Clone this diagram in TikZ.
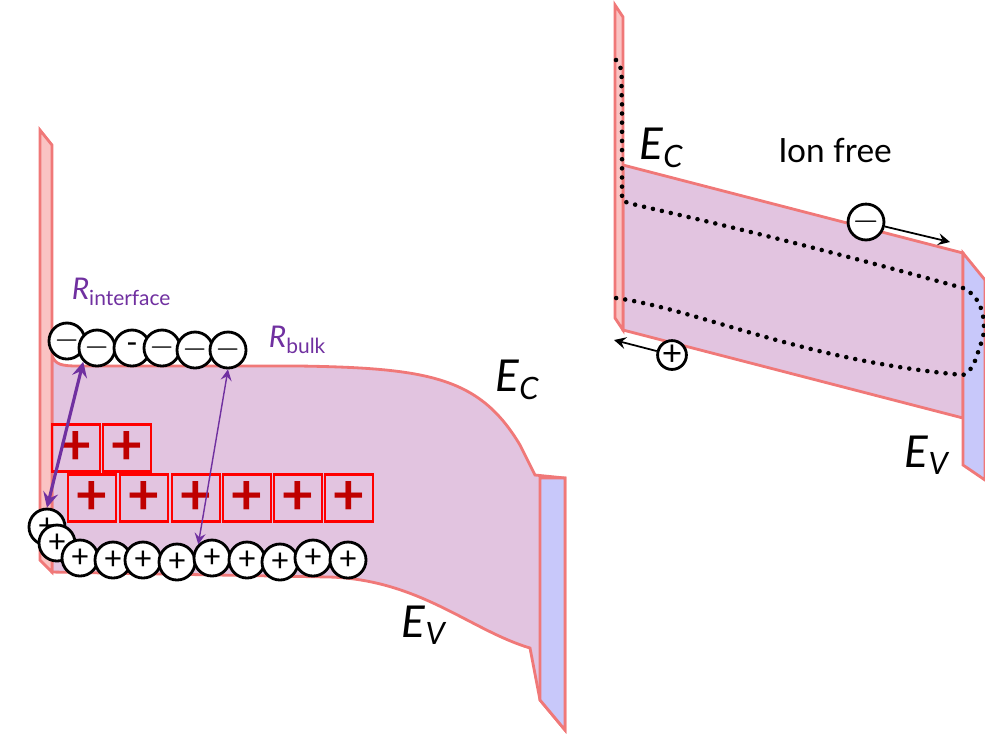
\documentclass[tikz,border=0pt]{standalone}
\usepackage{fontspec}
\setmainfont{Lato}
\usepackage{tikz}
\definecolor{edgered}{RGB}{240,120,120}
\definecolor{stripred}{RGB}{250,195,195}
\definecolor{bandfill}{RGB}{226,196,224}
\definecolor{bluefill}{RGB}{200,200,250}
\definecolor{rpurple}{RGB}{112,48,160}
\tikzset{
	elec/.style = {circle, draw, line width = .8pt, fill = white, minimum size = .36cm, inner sep = 0pt, font = \fontsize{9}{9}\selectfont},
	hole/.style = {circle, draw, line width = .8pt, fill = white, minimum size = .36cm, inner sep = 0pt, font = \fontsize{9}{9}\selectfont},
	ion/.style = {draw = red, line width = .6pt, minimum width = .48cm, minimum height = .47cm, inner sep = 0pt, text = red!75!black, font = \fontsize{16}{16}\selectfont\bfseries},
	lbl/.style = {font = \fontsize{12.5}{12.5}\selectfont},
	edge/.style = {draw = edgered, line width = .8pt},
	dots/.style = {line width = 1.3pt, dash pattern = on 0pt off 2.6pt, line cap = round}
}
\begin{document}
\begin{tikzpicture}[x = .01cm, y = -.01cm]
	\useasboundingbox (0,0) rectangle (985,750);
	% left diagram
	\filldraw [edge, fill = bandfill] (52,355) .. controls (55,365) and (62,366) .. (80,366) -- (300,366) .. controls (430,368) and (480,378) .. (520,445) -- (535,475) -- (565,478) -- (565,730) -- (540,700) -- (530,648) .. controls (470,630) and (420,580) .. (330,577) -- (52,572) -- cycle;
	\filldraw [edge, fill = stripred] (40,130) -- (52,145) -- (52,572) -- (40,560) -- cycle;
	\filldraw [edge, fill = bluefill] (540,478) -- (565,478) -- (565,730) -- (540,700) -- cycle;
	\node [ion] (i1) at (76,448) {+};
	\node [ion] (i2) at (127,448) {+};
	\node [ion] (i3) at (92,498) {+};
	\node [ion] (i4) at (144,498) {+};
	\node [ion] (i5) at (196,498) {+};
	\node [ion] (i6) at (247,498) {+};
	\node [ion] (i7) at (298,498) {+};
	\node [ion] (i8) at (349,498) {+};
	\node [elec] (e1) at (67,341) {$-$};
	\node [elec] (e2) at (97,348) {$-$};
	\node [elec] (e3) at (132,348) {-};
	\node [elec] (e4) at (162,348) {$-$};
	\node [elec] (e5) at (195,350) {$-$};
	\node [elec] (e6) at (228,350) {$-$};
	\node [hole] (h1) at (47,527) {+};
	\node [hole] (h2) at (57,543) {+};
	\node [hole] (h3) at (80,558) {+};
	\node [hole] (h4) at (113,560) {+};
	\node [hole] (h5) at (143,560) {+};
	\node [hole] (h6) at (177,562) {+};
	\node [hole] (h7) at (212,558) {+};
	\node [hole] (h8) at (247,560) {+};
	\node [hole] (h9) at (280,562) {+};
	\node [hole] (h10) at (313,558) {+};
	\node [hole] (h11) at (348,560) {+};
	\draw [<->, rpurple, line width = .9pt, >=stealth] (e2.south west) -- (h1.north);
	\draw [<->, rpurple, line width = .4pt, >=stealth] (e6.south) -- (h7.north west);
	\node [rpurple, font = \fontsize{8.5}{8.5}\selectfont] (rint) at (122,292) {\textit{R}\textsubscript{interface}};
	\node [rpurple, font = \fontsize{8.5}{8.5}\selectfont] (rbulk) at (298,340) {\textit{R}\textsubscript{bulk}};
	\node [lbl] (ecl) at (518,380) {\textit{E}\textsubscript{\textit{C}}};
	\node [lbl] (evl) at (425,625) {\textit{E}\textsubscript{\textit{V}}};
	% right diagram
	\filldraw [edge, fill = bandfill] (623,165) -- (963,253) -- (963,418) -- (623,330) -- cycle;
	\filldraw [edge, fill = stripred] (615,5) -- (623,17) -- (623,330) -- (615,318) -- cycle;
	\filldraw [edge, fill = bluefill] (963,253) -- (985,280) -- (985,480) -- (963,465) -- cycle;
	\draw [dots] (616,60) .. controls (625,70) and (620,80) .. (622,100) -- (622,200) .. controls (624,205) and (700,215) .. (963,288) .. controls (990,300) and (985,340) .. (980,345) .. controls (975,365) and (970,372) .. (963,375) .. controls (800,360) and (700,310) .. (616,298);
	\node [lbl] (ecr) at (662,148) {\textit{E}\textsubscript{\textit{C}}};
	\node [font = \fontsize{9.5}{9.5}\selectfont] (free) at (835,150) {Ion free};
	\node [lbl] (evr) at (928,455) {\textit{E}\textsubscript{\textit{V}}};
	\node [elec, minimum size = .28cm, font = \fontsize{10}{10}\selectfont] (em) at (866,222) {$-$};
	\node [hole, minimum size = .28cm, font = \fontsize{10}{10}\selectfont] (hp) at (672,355) {+};
	\coordinate (emend) at (950,242);
	\coordinate (hpend) at (614,340);
	\draw [->, line width = .5pt, >=stealth] (em) -- (emend);
	\draw [->, line width = .5pt, >=stealth] (hp) -- (hpend);
\end{tikzpicture}
\end{document}
